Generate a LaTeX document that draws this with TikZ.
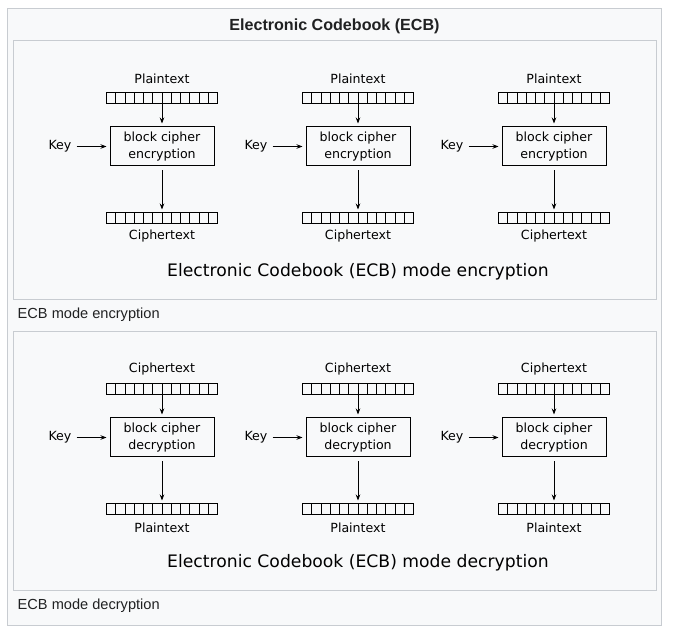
\documentclass[tikz,border=0pt]{standalone}
\usepackage{fontspec}
\setmainfont{DejaVu Sans}
\newfontfamily\wikifont{Liberation Sans}
\usetikzlibrary{arrows.meta}
\definecolor{framebg}{HTML}{F8F9FA}
\definecolor{framebd}{HTML}{C8CCD1}
\definecolor{wtext}{HTML}{202122}
\tikzset{
  reg/.style={draw, line width=1pt, minimum width=111pt, minimum height=11pt, inner sep=0pt,
    path picture={\foreach \i in {1,...,11}{\draw[line width=1pt]
      ([xshift=\i*9.25pt]path picture bounding box.south west) --
      ([xshift=\i*9.25pt]path picture bounding box.north west);}}},
  cipherbox/.style={draw, line width=1pt, minimum width=104pt, minimum height=39pt, inner sep=0pt,
    align=center, font=\fontsize{12.6}{17}\selectfont},
  lbl/.style={inner sep=0pt, font=\fontsize{12.6}{15}\selectfont},
  arr/.style={-{Stealth[length=6pt,width=4.5pt]}, line width=0.8pt},
  panel/.style={draw=framebd, line width=0.9pt},
  capt/.style={inner sep=0pt, font=\fontsize{17.2}{20}\selectfont},
  wcapt/.style={inner sep=0pt, anchor=west, text=wtext, font=\wikifont\fontsize{14.6}{17}\selectfont},
}
\begin{document}
\begin{tikzpicture}[x=1pt,y=-1pt]
\useasboundingbox (0,0) rectangle (673,639);
\fill[white] (0,0) rectangle (673,639);
\draw[framebd, fill=framebg, line width=0.9pt] (7.5,8.5) rectangle (661,625);
\node[text=wtext, inner sep=0pt, font=\wikifont\bfseries\fontsize{16.1}{19}\selectfont] (title) at (334.5,26) {Electronic Codebook (ECB)};
\foreach \P/\ta/\tb/\op/\cp [count=\p] in {0/Plaintext/Ciphertext/encryption/ECB mode encryption, 291/Ciphertext/Plaintext/decryption/ECB mode decryption}{
  \draw[panel] (13.5,{40.5+\P}) rectangle (656,{299+\P});
  \node[capt] (cap\p) at (358,{272+\P}) {Electronic Codebook (ECB) mode \op};
  \node[wcapt] (wc\p) at (17.5,{315+\P}) {\cp};
  \foreach \cx [count=\c] in {162,358,554}{
    \node[lbl] (in\p\c) at (\cx,{78.5+\P}) {\ta};
    \node[reg] (ri\p\c) at (\cx,{98+\P}) {};
    \node[cipherbox] (box\p\c) at (\cx,{146.5+\P}) {block cipher\\\op};
    \node[reg] (ro\p\c) at (\cx,{218+\P}) {};
    \node[lbl] (out\p\c) at (\cx,{236.5+\P}) {\tb};
    \node[lbl] (key\p\c) at ({\cx-102},{146.5+\P}) {Key};
    \draw[arr, shorten >=3pt] (ri\p\c.south) -- (box\p\c.north);
    \draw[arr, shorten <=4pt, shorten >=2.5pt] (box\p\c.south) -- (ro\p\c.north);
    \draw[arr, shorten <=5pt, shorten >=3pt] (key\p\c.east |- box\p\c.west) -- (box\p\c.west);
  }
}
\end{tikzpicture}
\end{document}
